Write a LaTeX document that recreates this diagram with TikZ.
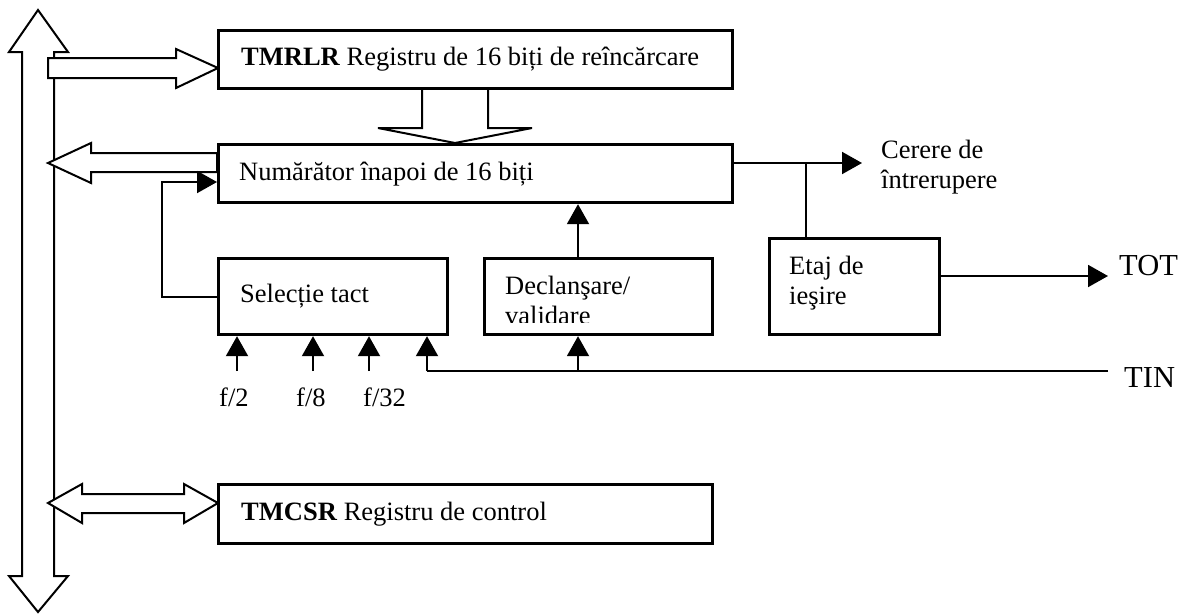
\documentclass[tikz,border=0pt]{standalone}
\usepackage{fontspec}
\setmainfont{Liberation Serif}
\usetikzlibrary{arrows.meta,calc}
\begin{document}
\begin{tikzpicture}[x=1pt,y=-1pt,
  font=\fontsize{26.5}{30}\selectfont,
  blockbox/.style={draw, line width=3.2pt, fill=white, anchor=north west,
    inner sep=0pt},
  wire/.style={line width=2pt},
  sig/.style={wire, -{Triangle[length=20pt,width=22pt]}},
  fat/.style={draw, line width=2pt, fill=white, line join=miter},
  lbl/.style={inner sep=0pt, anchor=west, align=left},
  big/.style={lbl, font=\fontsize{30.5}{34}\selectfont}]
\useasboundingbox (0,0) rectangle (1199,614);

% internal bus (vertical double block arrow)
\draw[fat] (38,10) -- (68,52) -- (54,52) -- (54,576) -- (68,576) -- (38,612)
  -- (9,576) -- (22,576) -- (22,52) -- (9,52) -- cycle;

% bus -> reload register
\draw[fat] (48,58) -- (176,58) -- (176,49) -- (218,68) -- (176,88) -- (176,78)
  -- (48,78) -- cycle;
% reload register -> counter
\draw[fat] (422,87) -- (488,87) -- (488,128) -- (532,128) -- (455,143)
  -- (378,128) -- (422,128) -- cycle;
% counter -> bus
\draw[fat] (217,153) -- (91,153) -- (91,143) -- (48,163) -- (91,183)
  -- (91,172) -- (217,172) -- cycle;
% bus <-> control register
\draw[fat] (48,503) -- (82,484) -- (82,494) -- (184,494) -- (184,484)
  -- (218,503) -- (184,523) -- (184,513) -- (82,513) -- (82,523) -- cycle;

% blocks
\node[blockbox, minimum width=514pt, minimum height=58pt] (tmrlr) at (217,29) {};
\node[blockbox, minimum width=514pt, minimum height=58pt] (cnt) at (217,143) {};
\node[blockbox, minimum width=229pt, minimum height=76pt] (sel) at (217,257) {};
\node[blockbox, minimum width=228pt, minimum height=76pt] (decl) at (483,257) {};
\node[blockbox, minimum width=170pt, minimum height=96pt] (etaj) at (768,237) {};
\node[blockbox, minimum width=494pt, minimum height=59pt] (tmcsr) at (217,483) {};

% block texts
\node[lbl] (tmrlrtxt) at ($(tmrlr.west)+(24,0)$)
  {\textbf{TMRLR} Registru de 16 biți de reîncărcare};
\node[lbl] (cnttxt) at ($(cnt.west)+(22,0)$) {Numărător înapoi de 16 biți};
\node[lbl] (seltxt) at ($(sel.west)+(23,0)$) {Selecție tact};
\node[lbl] (etajtxt) at ($(etaj.west)+(21,-3)$) {Etaj de\\ieşire};
\node[lbl] (tmcsrtxt) at ($(tmcsr.west)+(24,0)$)
  {\textbf{TMCSR} Registru de control};

% trigger block text, cut off by the block
\begin{scope}
  \clip (486,260) rectangle (708,322);
  \node[lbl] (decltxt) at (505,300) {Declanşare/\\validare};
\end{scope}

% clock selection feeds the counter
\coordinate (fb) at (162,182);
\draw[sig] (sel.west) -| (fb) -- (fb -| cnt.west);

% trigger/enable -> counter
\coordinate (trig) at (578,371);
\draw[sig] (trig |- decl.north) -- (trig |- cnt.south);

% TIN input line
\coordinate (tinc) at (427,371);
\coordinate (tinend) at (1108,371);
\draw[wire] (tinend) -- (tinc);
\draw[sig] (tinc) -- (tinc |- sel.south);
\draw[sig] (trig) -- (trig |- decl.south);

% clock inputs
\coordinate (f2) at (237,371);
\coordinate (f8) at (313,371);
\coordinate (f32) at (369,371);
\draw[sig] (f2) -- (f2 |- sel.south);
\draw[sig] (f8) -- (f8 |- sel.south);
\draw[sig] (f32) -- (f32 |- sel.south);
\node[lbl] (lf2) at (219,397) {f/2};
\node[lbl] (lf8) at (296,397) {f/8};
\node[lbl] (lf32) at (363,397) {f/32};

% counter output: interrupt request and output stage
\coordinate (irq) at (862,163);
\coordinate (jn) at (806,163);
\draw[sig] (cnt.east |- irq) -- (irq);
\draw[wire] (jn) -- (jn |- etaj.north);
\node[lbl] (irqtxt) at (881,167) {Cerere de\\întrerupere};

% TOT output
\coordinate (totend) at (1108,276);
\draw[sig] (etaj.east |- totend) -- (totend);
\node[big] (tot) at (1119,266) {TOT};
\node[big] (tin) at (1124,378) {TIN};
\end{tikzpicture}
\end{document}
